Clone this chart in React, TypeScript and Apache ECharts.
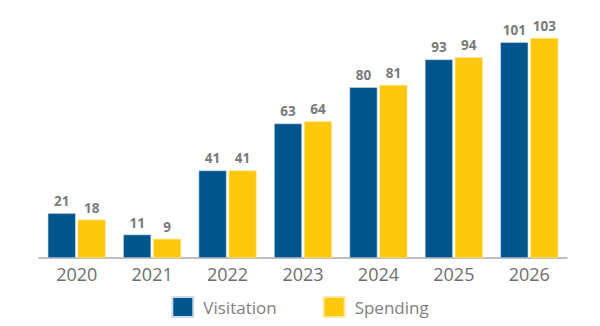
import React, { useEffect, useRef } from "react";
import * as echarts from "echarts";

const years = ["2020", "2021", "2022", "2023", "2024", "2025", "2026"];
const visitation = [21, 11, 41, 63, 80, 93, 101];
const spending = [18, 9, 41, 64, 81, 94, 103];

export default function App() {
  const ref = useRef<HTMLDivElement>(null);
  useEffect(() => {
    if (!ref.current) return;
    const chart = echarts.init(ref.current, undefined, { renderer: "svg" });
    const label = {
      show: true,
      position: "top" as const,
      distance: 5,
      color: "#7a7a7a",
      fontWeight: "bold" as const,
      fontSize: 13.5,
      fontFamily: "Open Sans",
    };
    chart.setOption({
      animation: false,
      grid: { left: 39, right: 33, top: 38, bottom: 68 },
      xAxis: {
        type: "category",
        data: years,
        axisLine: { lineStyle: { color: "#aaaaaa", width: 1.5 } },
        axisTick: { show: false },
        axisLabel: { color: "#6e6e6e", fontSize: 18, fontFamily: "Open Sans", margin: 7 },
      },
      yAxis: { type: "value", min: 0, max: 103, show: false, splitLine: { show: false } },
      legend: {
        bottom: 3,
        left: "center",
        itemWidth: 21,
        itemHeight: 20,
        itemGap: 46,
        icon: "rect",
        textStyle: { color: "#808080", fontSize: 17, fontFamily: "Open Sans", padding: [0, 0, 0, 5] },
        data: ["Visitation", "Spending"],
      },
      series: [
        {
          name: "Visitation",
          type: "bar",
          data: visitation,
          barWidth: 28,
          barGap: "7%",
          itemStyle: { color: "#00558c", borderColor: "#cfdbe6", borderWidth: 0.6 },
          label,
        },
        {
          name: "Spending",
          type: "bar",
          data: spending,
          barWidth: 28,
          itemStyle: { color: "#fdc70b", borderColor: "#ffe9a0", borderWidth: 0.6 },
          label,
        },
      ],
    });
    return () => chart.dispose();
  }, []);
  return <div ref={ref} style={{ width: 600, height: 326, position: "absolute", left: 0, top: 0 }} />;
}
